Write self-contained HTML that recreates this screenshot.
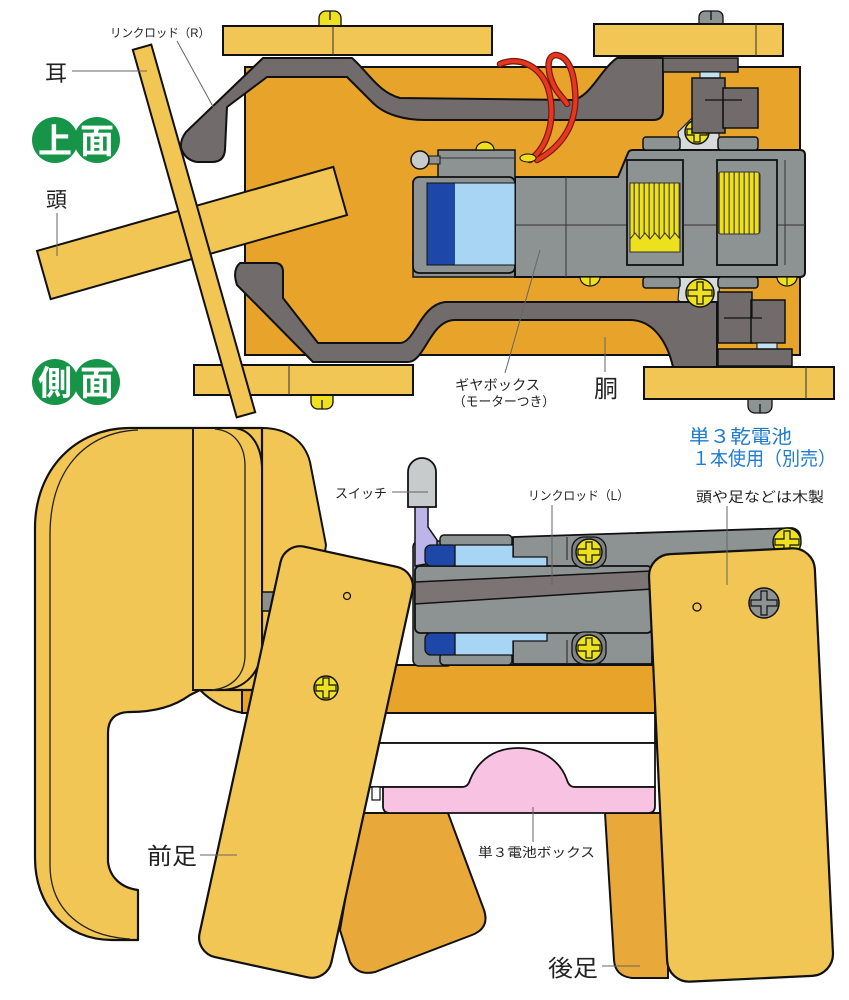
<!DOCTYPE html>
<html><head><meta charset="utf-8">
<style>
html,body{margin:0;padding:0;background:#fff;}
svg{display:block;}
text{font-family:"Liberation Sans","Noto Sans CJK JP",sans-serif;}
</style></head><body>
<svg width="849" height="1000" viewBox="0 0 849 1000" xmlns="http://www.w3.org/2000/svg">
<defs>
<pattern id="gear" width="5" height="10" patternUnits="userSpaceOnUse"><rect width="5" height="10" fill="#EDE11E"/><rect x="3.6" width="1.1" height="10" fill="#3a3510"/></pattern>
</defs>
<rect width="849" height="1000" fill="#fff"/>

<!-- ================= TOP VIEW ================= -->
<rect x="245" y="67" width="555" height="288" fill="#E8A32B" stroke="#111" stroke-width="2"/>

<!-- silver plates & screw behind -->
<path d="M700,110 L718,120 L720,150 L680,150 L678,132 Z" fill="#D6DADA" stroke="#222" stroke-width="1.2"/>
<path d="M680,277 L720,277 L718,312 L700,318 L678,300 Z" fill="#D6DADA" stroke="#222" stroke-width="1.2"/>
<circle cx="697" cy="132" r="12" fill="#EEE21E" stroke="#111" stroke-width="1.5"/>
<path d="M687,129 H694 V122 H700 V129 H707 V135 H700 V142 H694 V135 H687 Z" fill="#EEE21E" stroke="#111" stroke-width="1.2"/>

<!-- link rods -->
<path d="M186,132 L263,58 L352,58 C368,72 378,92 400,98 L572,100 C590,98 600,70 617,58 L663,58 L663,110 Q663,120 653,120 L425,120 C405,120 385,115 373,103 L347,77 L267,77 L227,107 L225,150 Q224,162 212,162 L197,162 Q185,160 181,148 Q180,140 186,132 Z" fill="#716B6C" stroke="#111" stroke-width="2" stroke-linejoin="round"/>
<path d="M240,263 L276,263 Q283,264 283,272 L283,298 L318,343 L400,343 C415,343 420,305 445,302 L717,302 L717,367 L673,367 C668,345 655,320 630,320 L455,320 C430,320 425,362 408,362 L313,362 L237,285 Q232,270 240,263 Z" fill="#716B6C" stroke="#111" stroke-width="2" stroke-linejoin="round"/>

<!-- gearbox -->
<rect x="413" y="255" width="140" height="22" fill="#8D9293" stroke="#111" stroke-width="1.5"/>
<path d="M515,177 L618,177 L628,153 Q629,150 633,150 L800,150 Q805,150 805,155 L805,272 Q805,277 800,277 L515,277 Z" fill="#8D9293" stroke="#111" stroke-width="2"/>
<line x1="515" y1="225" x2="805" y2="225" stroke="#333" stroke-width="1"/>
<line x1="566" y1="177" x2="566" y2="277" stroke="#333" stroke-width="1"/>
<line x1="785" y1="160" x2="785" y2="265" stroke="#333" stroke-width="1"/>
<rect x="643" y="137" width="37" height="13" rx="3" fill="#8D9293" stroke="#111" stroke-width="1.5"/>
<rect x="718" y="137" width="40" height="13" rx="3" fill="#8D9293" stroke="#111" stroke-width="1.5"/>
<rect x="643" y="277" width="37" height="11" rx="3" fill="#8D9293" stroke="#111" stroke-width="1.5"/>
<rect x="718" y="277" width="40" height="11" rx="3" fill="#8D9293" stroke="#111" stroke-width="1.5"/>
<rect x="627" y="160" width="56" height="105" fill="#8D9293" stroke="#111" stroke-width="1.8"/>
<rect x="717" y="160" width="60" height="105" fill="#8D9293" stroke="#111" stroke-width="1.8"/>
<rect x="630" y="183" width="50" height="56" fill="url(#gear)" stroke="#333" stroke-width="1"/>
<path d="M630,239 L635,233 L640,239 L645,233 L650,239 L655,233 L660,239 L665,233 L670,239 L675,233 L680,239 L680,252 L630,252 Z" fill="#EDE11E" stroke="#333" stroke-width="1"/>
<rect x="718" y="172" width="42" height="62" rx="3" fill="url(#gear)" stroke="#333" stroke-width="1"/>
<!-- motor -->
<rect x="438" y="150" width="77" height="30" fill="#8D9293" stroke="#111" stroke-width="1.5"/>
<line x1="438" y1="158" x2="515" y2="158" stroke="#333" stroke-width="1"/>
<rect x="424" y="156" width="16" height="8" fill="#8D9293" stroke="#111" stroke-width="1"/>
<circle cx="420" cy="160" r="9" fill="#C9CBCB" stroke="#111" stroke-width="1.5"/>
<rect x="413" y="177" width="102" height="96" rx="6" fill="#8D9293" stroke="#111" stroke-width="1.8"/>
<rect x="427" y="183" width="28" height="82" fill="#1E48A8"/>
<rect x="455" y="183" width="60" height="82" fill="#A9D5F4"/>
<rect x="427" y="183" width="88" height="82" fill="none" stroke="#111" stroke-width="1"/>
<path d="M476,150 A9 8 0 0 1 494,150 Z" fill="#EEE21E" stroke="#111" stroke-width="1.2"/>
<path d="M580,277 A10 9 0 0 0 600,277 Z" fill="#EEE21E" stroke="#111" stroke-width="1.2"/>
<path d="M777,277 A10 9 0 0 0 797,277 Z" fill="#EEE21E" stroke="#111" stroke-width="1.2"/>
<line x1="590" y1="277" x2="590" y2="285" stroke="#111"/>
<line x1="787" y1="277" x2="787" y2="285" stroke="#111"/>

<!-- cranks -->
<rect x="663" y="58" width="75" height="14" fill="#716B6C" stroke="#111" stroke-width="1.5"/>
<rect x="700" y="72" width="20" height="6" fill="#C2E2F2" stroke="#111" stroke-width="1"/>
<rect x="692" y="78" width="33" height="55" fill="#716B6C" stroke="#111" stroke-width="1.5"/>
<rect x="723" y="88" width="35" height="40" fill="#716B6C" stroke="#111" stroke-width="1.5"/>
<path d="M705,100 H742 M723,100 V128" stroke="#111" stroke-width="1.2" fill="none"/>
<rect x="718" y="292" width="34" height="51" fill="#716B6C" stroke="#111" stroke-width="1.5"/>
<rect x="751" y="300" width="34" height="43" fill="#716B6C" stroke="#111" stroke-width="1.5"/>
<path d="M724,318 H762 M752,300 V318" stroke="#111" stroke-width="1.2" fill="none"/>
<rect x="757" y="343" width="20" height="6" fill="#C2E2F2" stroke="#111" stroke-width="1"/>
<rect x="718" y="349" width="74" height="17" fill="#716B6C" stroke="#111" stroke-width="1.5"/>
<circle cx="700" cy="293" r="14" fill="#EEE21E" stroke="#111" stroke-width="1.5"/>
<path d="M688,290 H697 V282 H703 V290 H712 V296 H703 V304 H697 V296 H688 Z" fill="#EEE21E" stroke="#111" stroke-width="1.2"/>

<!-- wires -->
<g fill="none" stroke-linecap="round">
<path d="M530,160 C550,145 556,115 548,88 C540,66 520,56 500,64" stroke="#7a1a10" stroke-width="6.5"/>
<path d="M537,160 C565,145 578,120 575,90 C573,65 565,55 555,55 C545,57 548,75 555,88 C560,96 565,100 567,104" stroke="#7a1a10" stroke-width="6.5"/>
<path d="M530,160 C550,145 556,115 548,88 C540,66 520,56 500,64" stroke="#E8371F" stroke-width="4"/>
<path d="M537,160 C565,145 578,120 575,90 C573,65 565,55 555,55 C545,57 548,75 555,88 C560,96 565,100 567,104" stroke="#E8371F" stroke-width="4"/>
</g>
<ellipse cx="528" cy="158" rx="8" ry="4" fill="#EEE21E" stroke="#111" stroke-width="1"/>

<!-- planks -->
<path d="M319,26 L319,18 A7 7 0 0 1 326,11 L334,11 A7 7 0 0 1 341,18 L341,26 Z" fill="#EEE21E" stroke="#111" stroke-width="1.3"/>
<line x1="330" y1="11" x2="330" y2="20" stroke="#111" stroke-width="1.3"/>
<path d="M699,25 L699,17 A6 6 0 0 1 705,11 L717,11 A6 6 0 0 1 723,17 L723,25 Z" fill="#8D9293" stroke="#111" stroke-width="1.3"/>
<line x1="711" y1="11" x2="711" y2="20" stroke="#111" stroke-width="1.3"/>
<path d="M311,394 L311,402 A7 7 0 0 0 318,409 L326,409 A7 7 0 0 0 333,402 L333,394 Z" fill="#EEE21E" stroke="#111" stroke-width="1.3"/>
<line x1="322" y1="400" x2="322" y2="409" stroke="#111" stroke-width="1.3"/>
<path d="M748,398 L748,406 A7 7 0 0 0 755,413 L765,413 A7 7 0 0 0 772,406 L772,398 Z" fill="#8D9293" stroke="#111" stroke-width="1.3"/>
<line x1="760" y1="404" x2="760" y2="413" stroke="#111" stroke-width="1.3"/>

<rect x="223" y="26" width="269" height="29" fill="#F2C654" stroke="#111" stroke-width="2"/>
<line x1="333" y1="26" x2="333" y2="55" stroke="#333" stroke-width="1"/>
<rect x="594" y="24" width="189" height="32" fill="#F2C654" stroke="#111" stroke-width="2"/>
<line x1="756" y1="24" x2="756" y2="56" stroke="#333" stroke-width="1"/>
<rect x="194" y="365" width="219" height="30" fill="#F2C654" stroke="#111" stroke-width="2"/>
<line x1="289" y1="365" x2="289" y2="395" stroke="#333" stroke-width="1"/>
<rect x="644" y="367" width="190" height="32" fill="#F2C654" stroke="#111" stroke-width="2"/>
<line x1="806" y1="367" x2="806" y2="399" stroke="#333" stroke-width="1"/>

<!-- head & ear planks -->
<rect x="-154" y="-25" width="308" height="50" fill="#F2C654" stroke="#111" stroke-width="2" transform="translate(192,233) rotate(-15.84)"/>
<rect x="-9.6" y="-191" width="19.2" height="382" fill="#F2C654" stroke="#111" stroke-width="2" transform="translate(194,231) rotate(-15.78)"/>

<!-- badges -->
<circle cx="55" cy="140" r="23" fill="#169447"/>
<circle cx="97" cy="140" r="23" fill="#169447"/>
<text x="55" y="153" font-size="34" font-weight="bold" fill="#fff" text-anchor="middle">上</text>
<text x="97" y="153" font-size="34" font-weight="bold" fill="#fff" text-anchor="middle">面</text>
<circle cx="55" cy="382" r="23" fill="#169447"/>
<circle cx="97" cy="382" r="23" fill="#169447"/>
<text x="55" y="395" font-size="34" font-weight="bold" fill="#fff" text-anchor="middle">側</text>
<text x="97" y="395" font-size="34" font-weight="bold" fill="#fff" text-anchor="middle">面</text>

<!-- top labels -->
<g stroke="#666" stroke-width="1">
<line x1="177" y1="41" x2="216" y2="112"/>
<line x1="72" y1="71" x2="147" y2="71"/>
<line x1="57" y1="213" x2="57" y2="256"/>
<line x1="505" y1="373" x2="540" y2="250"/>
<line x1="605" y1="337" x2="605" y2="372"/>
</g>
<text x="110" y="37" font-size="12" fill="#222" textLength="100" lengthAdjust="spacingAndGlyphs">リンクロッド（R）</text>
<text x="45" y="81" font-size="22" fill="#222">耳</text>
<text x="46" y="207" font-size="21" fill="#222">頭</text>
<text x="455" y="390" font-size="14" fill="#222" textLength="85" lengthAdjust="spacingAndGlyphs">ギヤボックス</text>
<text x="453" y="406" font-size="13" fill="#222" textLength="102" lengthAdjust="spacingAndGlyphs">（モーターつき）</text>
<text x="594" y="397" font-size="24" fill="#222">胴</text>

<!-- ================= SIDE VIEW ================= -->
<!-- back legs -->
<path d="M605,813 L668,813 L668,978 L632,978 Q615,976 614,960 Z" fill="#E8A83A" stroke="#111" stroke-width="2"/>
<path d="M383,813 L448,813 L484,910 Q490,928 472,935 L375,972 Q358,976 350,962 L340,930 L360,813 Z" fill="#E8A83A" stroke="#111" stroke-width="2"/>
<!-- white plates & battery box -->
<rect x="360" y="713" width="295" height="30" fill="#fff" stroke="#111" stroke-width="1.8"/>
<rect x="360" y="743" width="295" height="44" fill="#fff" stroke="#111" stroke-width="1.8"/>
<rect x="372" y="787" width="8" height="13" fill="#fff" stroke="#111" stroke-width="1.2"/>
<path d="M383,787 L462,787 Q468,787 470,780 C478,760 495,748 518,748 C541,748 560,760 567,780 Q569,787 575,787 L655,787 L655,806 Q655,813 648,813 L390,813 Q383,813 383,806 Z" fill="#F8C3E2" stroke="#111" stroke-width="1.8"/>

<!-- neck -->
<path d="M225,428 L262,428 C288,428 305,442 310,462 L326,545 L300,713 L243,713 C225,710 210,700 200,690 Z" fill="#F2C654" stroke="#111" stroke-width="2"/>
<!-- body side -->
<rect x="242" y="665" width="413" height="48" fill="#E8A32B" stroke="#111" stroke-width="2"/>

<!-- gearbox side -->
<rect x="413" y="541" width="40" height="125" rx="6" fill="#8D9293" stroke="#111" stroke-width="1.5"/>
<rect x="440" y="535" width="72" height="12" rx="4" fill="#8D9293" stroke="#111" stroke-width="1.5"/>
<rect x="440" y="653" width="72" height="12" rx="4" fill="#8D9293" stroke="#111" stroke-width="1.5"/>
<path d="M513,537 L792,528 Q803,530 800,545 L650,569 L513,569 Z" fill="#8D9293" stroke="#111" stroke-width="1.8"/>
<rect x="513" y="632" width="139" height="32" fill="#8D9293" stroke="#111" stroke-width="1.8"/>
<rect x="415" y="566" width="237" height="67" rx="5" fill="#8D9293" stroke="#111" stroke-width="1.8"/>
<path d="M415,582 L652,571 L652,589 L415,604 Z" fill="#7B7374" stroke="#111" stroke-width="1.5"/>
<path d="M567,537 V560 M567,640 V663" stroke="#222" stroke-width="1"/>
<!-- switch -->
<path d="M415,505 L428,505 L428,527 L437,540 L437,562 L415,566 Z" fill="#BDB4EA" stroke="#111" stroke-width="1.5"/>
<path d="M408,507 L408,472 A14 14 0 0 1 436,472 L436,507 Z" fill="#C7CBCB" stroke="#111" stroke-width="1.8"/>
<!-- motors -->
<rect x="425" y="545" width="33" height="21" rx="6" fill="#1E48A8" stroke="#111" stroke-width="1.3"/>
<path d="M455,545 L513,545 L513,557 L547,557 L547,566 L455,566 Z" fill="#A9D5F4" stroke="#111" stroke-width="1.3"/>
<rect x="425" y="633" width="33" height="22" rx="6" fill="#1E48A8" stroke="#111" stroke-width="1.3"/>
<path d="M455,633 L547,633 L547,641 L513,641 L513,655 L455,655 Z" fill="#A9D5F4" stroke="#111" stroke-width="1.3"/>
<!-- screws on gearbox -->
<rect x="572" y="537" width="34" height="31" rx="12" fill="#7E8283" stroke="#111" stroke-width="1.3"/>
<rect x="572" y="632" width="34" height="32" rx="12" fill="#7E8283" stroke="#111" stroke-width="1.3"/>
<circle cx="589" cy="552" r="13" fill="#EEE21E" stroke="#111" stroke-width="1.5"/>
<path d="M578,549 H586 V542 H592 V549 H600 V555 H592 V562 H586 V555 H578 Z" fill="#EEE21E" stroke="#111" stroke-width="1.2"/>
<circle cx="589" cy="648" r="13" fill="#EEE21E" stroke="#111" stroke-width="1.5"/>
<path d="M578,645 H586 V638 H592 V645 H600 V651 H592 V658 H586 V651 H578 Z" fill="#EEE21E" stroke="#111" stroke-width="1.2"/>
<circle cx="787" cy="542" r="14" fill="#EEE21E" stroke="#111" stroke-width="1.5"/>
<path d="M775,539 H784 V531 H790 V539 H799 V545 H790 V553 H784 V545 H775 Z" fill="#EEE21E" stroke="#111" stroke-width="1.2"/>

<!-- head -->
<path d="M262,428 L130,428 C75,428 35,470 35,528 L35,858 C35,905 65,940 112,940 L138,940 L138,890 C122,888 110,878 108,862 L108,733 Q108,712 130,712 C155,712 175,706 190,695 L200,690 L262,690 Z" fill="#F2C654" stroke="#111" stroke-width="2.2" stroke-linejoin="round"/>
<path d="M138,430 C85,432 50,470 50,535 L50,865 C50,908 80,936 130,939" fill="none" stroke="#222" stroke-width="1.3"/>
<!-- ear -->
<path d="M193,428 L232,428 C250,428 262,445 262,470 L262,645 C262,672 245,690 220,690 L193,690 Z" fill="#F2C654" stroke="#111" stroke-width="2"/>
<path d="M215,429 C235,431 245,446 245,466 L245,655 C245,675 232,688 212,690" fill="none" stroke="#222" stroke-width="1.3"/>
<line x1="193" y1="428" x2="193" y2="690" stroke="#222" stroke-width="1.3"/>
<!-- axle stub -->
<rect x="262" y="592" width="24" height="19" fill="#8E9090" stroke="#111" stroke-width="1.5"/>

<!-- front leg -->
<rect x="-67.5" y="-210" width="135" height="420" rx="20" fill="#F2C654" stroke="#111" stroke-width="2.2" transform="translate(306,762) rotate(12.3)"/>
<circle cx="347" cy="596" r="3.5" fill="none" stroke="#111" stroke-width="1.3"/>
<circle cx="326" cy="688" r="12" fill="#EEE21E" stroke="#111" stroke-width="1.5"/>
<path d="M316,685 H323 V678 H329 V685 H336 V691 H329 V698 H323 V691 H316 Z" fill="#EEE21E" stroke="#111" stroke-width="1.2"/>

<!-- rear leg -->
<rect x="-83" y="-214" width="166" height="428" rx="22" fill="#F2C654" stroke="#111" stroke-width="2.2" transform="translate(741,765) rotate(-2.7)"/>
<circle cx="697" cy="607" r="4" fill="none" stroke="#111" stroke-width="1.3"/>
<circle cx="764" cy="603" r="15" fill="#8D9293" stroke="#111" stroke-width="1.5"/>
<path d="M751,600 H761 V591 H767 V600 H777 V606 H767 V615 H761 V606 H751 Z" fill="#8D9293" stroke="#111" stroke-width="1.2"/>

<!-- side labels -->
<g stroke="#666" stroke-width="1">
<line x1="392" y1="492" x2="428" y2="492"/>
<line x1="552" y1="505" x2="552" y2="585"/>
<line x1="727" y1="506" x2="727" y2="585"/>
<line x1="533" y1="807" x2="533" y2="842"/>
<line x1="200" y1="855" x2="237" y2="855"/>
<line x1="602" y1="966" x2="640" y2="966"/>
</g>
<text x="335" y="498" font-size="13" fill="#222" textLength="52" lengthAdjust="spacingAndGlyphs">スイッチ</text>
<text x="528" y="500" font-size="12.5" fill="#222" textLength="101" lengthAdjust="spacingAndGlyphs">リンクロッド（L）</text>
<text x="696" y="502" font-size="14" fill="#222" textLength="128" lengthAdjust="spacingAndGlyphs">頭や足などは木製</text>
<text x="689" y="443" font-size="19" fill="#1E7BD0" textLength="103" lengthAdjust="spacingAndGlyphs">単３乾電池</text>
<text x="692" y="465" font-size="19" fill="#1E7BD0" textLength="144" lengthAdjust="spacingAndGlyphs">１本使用（別売）</text>
<text x="478" y="857" font-size="13" fill="#222" textLength="117" lengthAdjust="spacingAndGlyphs">単３電池ボックス</text>
<text x="147" y="864" font-size="23" fill="#222" textLength="50" lengthAdjust="spacingAndGlyphs">前足</text>
<text x="548" y="976" font-size="23" fill="#222" textLength="50" lengthAdjust="spacingAndGlyphs">後足</text>
</svg>
</body></html>
